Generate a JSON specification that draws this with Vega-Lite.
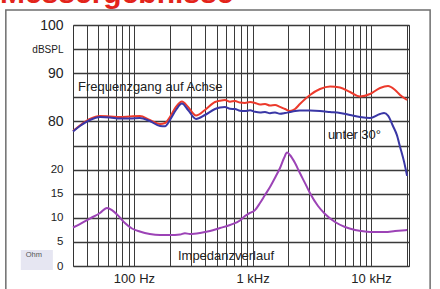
{
  "$schema": "https://vega.github.io/schema/vega-lite/v6.json",
  "width": 336,
  "height": 241,
  "autosize": {"type": "none"},
  "padding": {"left": 73, "top": 25, "right": 31, "bottom": 23},
  "background": "white",
  "config": {"view": {"stroke": "#333", "strokeWidth": 1}, "font": "Liberation Sans"},
  "resolve": {"scale": {"y": "independent"}},
  "datasets": {
    "achse": [
      {"f": 30.6, "db": 78.0}, {"f": 35.0, "db": 79.15}, {"f": 42.5, "db": 80.5}, {"f": 51.7, "db": 81.12},
      {"f": 62.8, "db": 81.02}, {"f": 76.2, "db": 80.91}, {"f": 92.5, "db": 81.02}, {"f": 112, "db": 81.12},
      {"f": 136, "db": 80.29}, {"f": 166, "db": 79.46}, {"f": 183, "db": 79.67}, {"f": 201, "db": 80.91},
      {"f": 226, "db": 82.99}, {"f": 254, "db": 84.13}, {"f": 286, "db": 82.99}, {"f": 334, "db": 81.22},
      {"f": 397, "db": 82.36}, {"f": 483, "db": 84.02}, {"f": 532, "db": 84.3}, {"f": 586, "db": 84.44},
      {"f": 646, "db": 84.1}, {"f": 712, "db": 84.23}, {"f": 784, "db": 83.9}, {"f": 863, "db": 83.82},
      {"f": 953, "db": 84.0}, {"f": 1050, "db": 83.82}, {"f": 1157, "db": 83.5}, {"f": 1275, "db": 83.61},
      {"f": 1405, "db": 83.3}, {"f": 1549, "db": 83.4}, {"f": 1706, "db": 83.0}, {"f": 1880, "db": 82.57},
      {"f": 2068, "db": 82.16}, {"f": 2284, "db": 82.57}, {"f": 2510, "db": 83.61}, {"f": 3055, "db": 85.48},
      {"f": 3710, "db": 86.72}, {"f": 4508, "db": 87.24}, {"f": 5470, "db": 87.03}, {"f": 6650, "db": 86.1},
      {"f": 8070, "db": 85.17}, {"f": 9810, "db": 85.68}, {"f": 11910, "db": 86.93}, {"f": 13900, "db": 87.34},
      {"f": 15940, "db": 86.51}, {"f": 17580, "db": 85.48}, {"f": 20130, "db": 84.44}
    ],
    "dreissig": [
      {"f": 30.6, "db": 77.9}, {"f": 35.0, "db": 79.05}, {"f": 42.5, "db": 80.29}, {"f": 51.7, "db": 80.91},
      {"f": 62.8, "db": 80.81}, {"f": 76.2, "db": 80.6}, {"f": 92.5, "db": 80.6}, {"f": 112, "db": 80.71},
      {"f": 136, "db": 80.08}, {"f": 166, "db": 79.05}, {"f": 183, "db": 79.0}, {"f": 201, "db": 80.29},
      {"f": 226, "db": 82.36}, {"f": 254, "db": 83.71}, {"f": 286, "db": 82.36}, {"f": 334, "db": 80.5},
      {"f": 397, "db": 81.33}, {"f": 483, "db": 82.57}, {"f": 532, "db": 82.9}, {"f": 586, "db": 82.99},
      {"f": 646, "db": 82.6}, {"f": 712, "db": 82.57}, {"f": 784, "db": 82.2}, {"f": 863, "db": 82.16},
      {"f": 953, "db": 82.3}, {"f": 1050, "db": 82.0}, {"f": 1157, "db": 81.85}, {"f": 1275, "db": 81.95},
      {"f": 1405, "db": 81.7}, {"f": 1549, "db": 81.85}, {"f": 1706, "db": 81.6}, {"f": 1880, "db": 81.74},
      {"f": 2068, "db": 81.95}, {"f": 2284, "db": 82.16}, {"f": 2510, "db": 82.26}, {"f": 3055, "db": 82.26},
      {"f": 3710, "db": 82.16}, {"f": 4508, "db": 81.95}, {"f": 5470, "db": 81.74}, {"f": 6650, "db": 81.33},
      {"f": 8070, "db": 80.91}, {"f": 9810, "db": 80.71}, {"f": 11910, "db": 81.54}, {"f": 12880, "db": 81.74},
      {"f": 13900, "db": 81.2}, {"f": 15340, "db": 79.0}, {"f": 16500, "db": 77.2}, {"f": 17580, "db": 74.7},
      {"f": 19000, "db": 71.6}, {"f": 20130, "db": 68.7}
    ],
    "impedanz": [
      {"f": 30.6, "ohm": 7.99}, {"f": 35.0, "ohm": 8.71}, {"f": 42.5, "ohm": 9.85}, {"f": 51.7, "ohm": 11.0},
      {"f": 59.2, "ohm": 12.03}, {"f": 65.2, "ohm": 11.6}, {"f": 73.3, "ohm": 10.5}, {"f": 83.9, "ohm": 8.92},
      {"f": 96.2, "ohm": 7.78}, {"f": 112, "ohm": 7.16}, {"f": 136, "ohm": 6.64}, {"f": 166, "ohm": 6.43},
      {"f": 201, "ohm": 6.43}, {"f": 245, "ohm": 6.54}, {"f": 269, "ohm": 6.8}, {"f": 297, "ohm": 6.64},
      {"f": 361, "ohm": 6.85}, {"f": 438, "ohm": 7.26}, {"f": 532, "ohm": 7.88}, {"f": 646, "ohm": 8.51},
      {"f": 784, "ohm": 9.44}, {"f": 863, "ohm": 10.37}, {"f": 953, "ohm": 11.0}, {"f": 1050, "ohm": 11.6},
      {"f": 1157, "ohm": 13.07}, {"f": 1275, "ohm": 14.73}, {"f": 1405, "ohm": 16.39}, {"f": 1545, "ohm": 18.26},
      {"f": 1706, "ohm": 20.33}, {"f": 1845, "ohm": 22.4}, {"f": 1955, "ohm": 23.55}, {"f": 2068, "ohm": 23.03},
      {"f": 2284, "ohm": 21.37}, {"f": 2510, "ohm": 19.29}, {"f": 2773, "ohm": 17.2}, {"f": 3050, "ohm": 15.15},
      {"f": 3570, "ohm": 12.45}, {"f": 4090, "ohm": 10.79}, {"f": 4970, "ohm": 9.13}, {"f": 6030, "ohm": 8.09},
      {"f": 7330, "ohm": 7.47}, {"f": 8900, "ohm": 7.16}, {"f": 10810, "ohm": 7.05}, {"f": 13130, "ohm": 7.05},
      {"f": 15940, "ohm": 7.26}, {"f": 20130, "ohm": 7.47}
    ]
  },
  "layer": [
    {
      "data": {"values": [{}]},
      "mark": {"type": "rect", "filled": false, "stroke": "#6e6e6e", "strokeWidth": 1.5},
      "encoding": {
        "x": {"datum": 8.3, "type": "quantitative", "scale": {"type": "log", "domain": [30.6, 20900], "nice": false}},
        "x2": {"datum": 31500},
        "y": {"datum": 103.1, "type": "quantitative", "scale": {"domain": [50, 100], "nice": false, "zero": false}, "axis": null},
        "y2": {"datum": 44}
      }
    },
    {
      "data": {"values": [{}]},
      "mark": {"type": "text", "align": "left", "baseline": "alphabetic", "fontSize": 30, "fontWeight": "bold", "color": "#e3241b", "font": "Liberation Sans"},
      "encoding": {
        "x": {"datum": 7.4, "type": "quantitative", "scale": {"type": "log", "domain": [30.6, 20900], "nice": false}},
        "y": {"datum": 104.5, "type": "quantitative", "scale": {"domain": [50, 100], "nice": false, "zero": false}, "axis": null},
        "text": {"value": "Messergebnisse"}
      }
    },
    {
      "data": {"values": [{}]},
      "mark": {"type": "rect", "fill": "#e6e6f2"},
      "encoding": {
        "x": {"datum": 11.1, "type": "quantitative", "scale": {"type": "log", "domain": [30.6, 20900], "nice": false}},
        "x2": {"datum": 20.7},
        "y": {"datum": 3.32, "type": "quantitative", "scale": {"domain": [0, 50], "nice": false}, "axis": null},
        "y2": {"datum": -0.83}
      }
    },
    {
      "data": {"values": [{}]},
      "mark": {"type": "text", "align": "center", "baseline": "middle", "fontSize": 7.5, "color": "#555", "font": "Liberation Sans"},
      "encoding": {
        "x": {"datum": 14.3, "type": "quantitative", "scale": {"type": "log", "domain": [30.6, 20900], "nice": false}},
        "y": {"datum": 2.2, "type": "quantitative", "scale": {"domain": [0, 50], "nice": false}, "axis": null},
        "text": {"value": "Ohm"}
      }
    },
    {
      "data": {"name": "achse"},
      "mark": {"type": "line", "color": "#ec3a2c", "strokeWidth": 2, "interpolate": "monotone"},
      "encoding": {
        "x": {"field": "f", "type": "quantitative", "scale": {"type": "log", "domain": [30.6, 20900], "nice": false},
          "axis": {"values": [40, 50, 60, 70, 80, 90, 100, 200, 300, 400, 500, 600, 700, 800, 900, 1000, 2000, 3000, 4000, 5000, 6000, 7000, 8000, 9000, 10000, 20000],
            "labelExpr": "datum.value == 100 ? '100 Hz' : datum.value == 1000 ? '1 kHz' : datum.value == 10000 ? '10 kHz' : ''",
            "grid": true, "gridColor": "#3a3a3a", "gridWidth": 1, "gridOpacity": 1, "ticks": false, "domain": false,
            "labelFontSize": 13, "labelColor": "#222", "labelPadding": 6, "labelFont": "Liberation Sans", "labelOverlap": false, "labelBound": false, "labelFlush": false, "title": null}},
        "y": {"field": "db", "type": "quantitative", "scale": {"domain": [50, 100], "nice": false, "zero": false},
          "axis": {"values": [50, 55, 60, 65, 70, 75, 80, 85, 90, 95, 100],
            "labelExpr": "datum.value == 100 ? '100' : datum.value == 95 ? 'dBSPL' : datum.value == 90 ? '90' : datum.value == 80 ? '80' : datum.value == 70 ? '20' : datum.value == 65 ? '15' : datum.value == 60 ? '10' : datum.value == 55 ? '5' : datum.value == 50 ? '0' : ''",
            "labelFontSize": {"condition": [{"test": "datum.value == 95", "value": 10}, {"test": "datum.value >= 80", "value": 14}], "value": 11.5},
            "grid": true, "gridColor": "#3a3a3a", "gridWidth": 1.3, "gridOpacity": 1, "ticks": false, "domain": false,
            "labelColor": "#222", "labelPadding": 10, "labelFont": "Liberation Sans", "labelOverlap": false, "labelBound": false, "labelFlush": false, "title": null}}
      }
    },
    {
      "data": {"name": "dreissig"},
      "mark": {"type": "line", "color": "#3a37a6", "strokeWidth": 2, "interpolate": "monotone"},
      "encoding": {
        "x": {"field": "f", "type": "quantitative", "scale": {"type": "log", "domain": [30.6, 20900], "nice": false}},
        "y": {"field": "db", "type": "quantitative", "scale": {"domain": [50, 100], "nice": false, "zero": false}, "axis": null}
      }
    },
    {
      "data": {"name": "impedanz"},
      "mark": {"type": "line", "color": "#9c43b6", "strokeWidth": 2, "interpolate": "monotone"},
      "encoding": {
        "x": {"field": "f", "type": "quantitative", "scale": {"type": "log", "domain": [30.6, 20900], "nice": false}},
        "y": {"field": "ohm", "type": "quantitative", "scale": {"domain": [0, 50], "nice": false}, "axis": null}
      }
    },
    {
      "data": {"values": [{}]},
      "mark": {"type": "text", "align": "left", "baseline": "middle", "fontSize": 13, "color": "#222", "font": "Liberation Sans"},
      "encoding": {
        "x": {"datum": 33.7, "type": "quantitative", "scale": {"type": "log", "domain": [30.6, 20900], "nice": false}},
        "y": {"datum": 87.1, "type": "quantitative", "scale": {"domain": [50, 100], "nice": false, "zero": false}, "axis": null},
        "text": {"value": "Frequenzgang auf Achse"}
      }
    },
    {
      "data": {"values": [{}]},
      "mark": {"type": "text", "align": "left", "baseline": "middle", "fontSize": 13, "color": "#222", "font": "Liberation Sans"},
      "encoding": {
        "x": {"datum": 4340, "type": "quantitative", "scale": {"type": "log", "domain": [30.6, 20900], "nice": false}},
        "y": {"datum": 77.2, "type": "quantitative", "scale": {"domain": [50, 100], "nice": false, "zero": false}, "axis": null},
        "text": {"value": "unter 30°"}
      }
    },
    {
      "data": {"values": [{}]},
      "mark": {"type": "text", "align": "left", "baseline": "middle", "fontSize": 13, "color": "#222", "font": "Liberation Sans"},
      "encoding": {
        "x": {"datum": 235, "type": "quantitative", "scale": {"type": "log", "domain": [30.6, 20900], "nice": false}},
        "y": {"datum": 2.07, "type": "quantitative", "scale": {"domain": [0, 50], "nice": false}, "axis": null},
        "text": {"value": "Impedanzverlauf"}
      }
    }
  ]
}
